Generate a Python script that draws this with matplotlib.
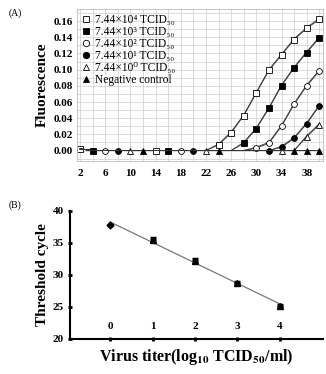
import matplotlib
matplotlib.use("Agg")
import matplotlib.pyplot as plt
import numpy as np
from matplotlib.ticker import MultipleLocator

plt.rcParams['font.family'] = ['Liberation Serif', 'DejaVu Serif']
plt.rcParams['mathtext.fontset'] = 'stix'

# (A) amplification curves
cycles = list(range(2, 41, 2))
labels = ["7.44×10⁴ TCID₅₀",
          "7.44×10³ TCID₅₀",
          "7.44×10² TCID₅₀",
          "7.44×10¹ TCID₅₀",
          "7.44×10⁰ TCID₅₀",
          "Negative control"]
fl_1e4 = [0.002, 0, 0, 0, 0, 0, 0, 0, 0, 0, 0, 0.007, 0.022, 0.043, 0.071, 0.099, 0.118, 0.137, 0.151, 0.162]
fl_1e3 = [0.002, 0, 0, 0, 0, 0, 0, 0, 0, 0, 0, 0, 0, 0.009, 0.027, 0.052, 0.080, 0.102, 0.121, 0.139]
fl_1e2 = [0.002, 0, 0, 0, 0, 0, 0, 0, 0, 0, 0, 0, 0, 0, 0.003, 0.009, 0.030, 0.057, 0.080, 0.098]
fl_1e1 = [0.002, 0, 0, 0, 0, 0, 0, 0, 0, 0, 0, 0, 0, 0, 0, 0, 0.004, 0.015, 0.033, 0.055]
fl_1e0 = [0.002, 0, 0, 0, 0, 0, 0, 0, 0, 0, 0, 0, 0, 0, 0, 0, 0, 0.000, 0.017, 0.032]
fl_neg = [0.002, 0, 0, 0, 0, 0, 0, 0, 0, 0, 0, 0, 0, 0, 0, 0, 0, 0, 0, 0]
series = [fl_1e4, fl_1e3, fl_1e2, fl_1e1, fl_1e0, fl_neg]
markers = ['s', 's', 'o', 'o', '^', '^']
filled = [False, True, False, True, False, True]

# (B) standard curve
titer = [0, 1, 2, 3, 4]
ct_rep1 = [37.7, 35.2, 32.0, 28.5, 25.0]
ct_rep2 = [37.7, 35.8, 32.4, 28.9, 25.3]

fig = plt.figure(figsize=(3.26, 3.74), dpi=100)

ax1 = fig.add_axes([0.236, 0.570, 0.755, 0.406])
for i, (y, m, f, lab) in enumerate(zip(series, markers, filled, labels)):
    y = np.array(y)
    rising = y > 0.0025
    show = [k for k in range(len(y)) if k % 6 == i or (rising[k] and k > 0)]
    if i == 5:
        show += [18, 19]
    for off in (0.0, 0.0012):
        ax1.plot(cycles, y + off * (y > 0.0025), color='#333333', lw=0.6)
    ax1.plot(cycles, y, ls='none', marker=m, ms=4.2,
             mfc='black' if f else 'white', mec='black', mew=0.6,
             markevery=show, label=lab)
ax1.set_xlim(1.5, 40.6)
ax1.set_ylim(-0.0127, 0.175)
ax1.xaxis.set_minor_locator(MultipleLocator(2))
ax1.yaxis.set_minor_locator(MultipleLocator(0.01))
xt = [2, 6, 10, 14, 18, 22, 26, 30, 34, 38]
ax1.set_xticks(xt)
ax1.set_xticklabels([str(v) for v in xt], fontweight='bold', fontsize=8)
yt = np.arange(0, 0.161, 0.02)
ax1.set_yticks(yt)
ax1.set_yticklabels(['%.2f' % v for v in yt], fontweight='bold', fontsize=8)
ax1.grid(True, which='both', color='#cccccc', lw=0.5)
ax1.set_axisbelow(True)
ax1.tick_params(which='both', length=0)
ax1.tick_params(axis='x', pad=6)
ax1.tick_params(axis='y', pad=3)
for s in ax1.spines.values():
    s.set_color('#bbbbbb')
    s.set_linewidth(0.6)
ax1.set_ylabel('Fluorescence', fontsize=11, fontweight='bold', labelpad=3)
ax1.legend(loc='upper left', frameon=False, fontsize=8.3, handlelength=0.8,
           handletextpad=0.4, labelspacing=0.0, borderaxespad=0.1,
           borderpad=0.3, markerscale=1.1)
fig.text(0.025, 0.965, '(A)', fontsize=7, va='center')

ax2 = fig.add_axes([0.215, 0.0936, 0.776, 0.343])
fit = np.polyfit(titer + titer, ct_rep1 + ct_rep2, 1)
xs = np.array([titer[0], titer[-1]])
ax2.plot(xs, np.polyval(fit, xs), color='#777777', lw=0.9)
ct_mean = (np.array(ct_rep1) + np.array(ct_rep2)) / 2
ct_err = (np.array(ct_rep2) - np.array(ct_rep1)) / 2
ax2.errorbar(titer[1:], ct_mean[1:], yerr=ct_err[1:], fmt='^', color='black',
             ms=5, capsize=2.5, elinewidth=2.5, capthick=2.5)
ax2.plot(titer[:1], ct_mean[:1], 'D', color='black', ms=3.5)
ax2.set_xlim(-0.95, 5.02)
ax2.set_ylim(20, 40)
ax2.set_xticks(titer)
ax2.set_yticks([20, 25, 30, 35, 40])
ax2.spines['top'].set_visible(False)
ax2.spines['right'].set_visible(False)
ax2.spines['left'].set_linewidth(1.5)
ax2.spines['bottom'].set_linewidth(1.5)
ax2.tick_params(direction='inout', length=3, width=2, labelsize=8, pad=3)
ax2.tick_params(axis='x', pad=-14)
for t in ax2.get_xticklabels() + ax2.get_yticklabels():
    t.set_fontweight('bold')
ax2.set_ylabel('Threshold cycle', fontsize=11, fontweight='bold', labelpad=3)
ax2.set_xlabel(r'Virus titer(log$_{\mathbf{10}}$ TCID$_{\mathbf{50}}$/ml)',
               fontsize=11.5, fontweight='bold', labelpad=4)
fig.text(0.025, 0.452, '(B)', fontsize=7, va='center')

fig.savefig('out.png', dpi=100)
